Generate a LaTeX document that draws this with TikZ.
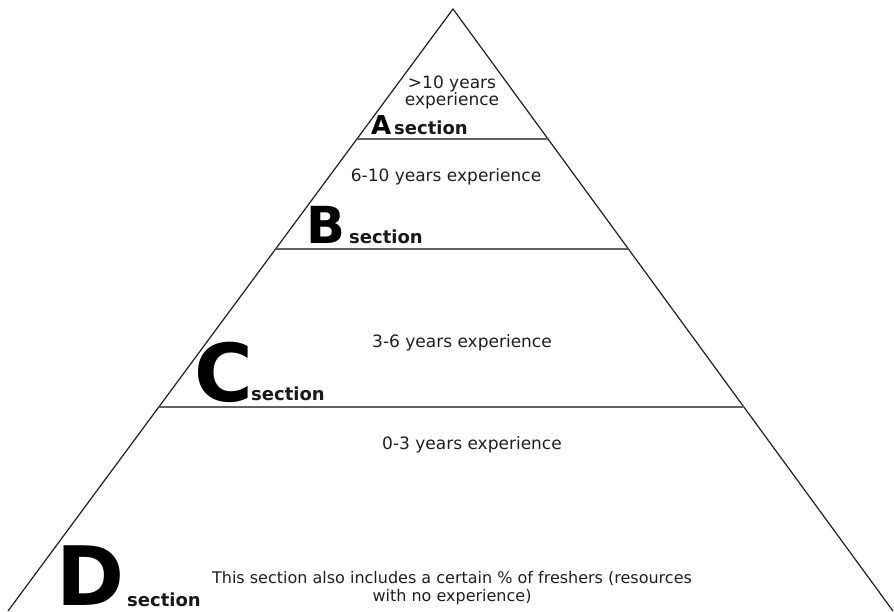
\documentclass[tikz,border=0pt]{standalone}
\usepackage{fontspec}
\setmainfont{DejaVu Sans}
\usetikzlibrary{calc}
\begin{document}
\begin{tikzpicture}[x=1pt,y=-1pt,
  side/.style={draw=black!88, line width=1.2pt},
  divider/.style={draw=black!62, line width=1.9pt},
  desc/.style={anchor=base, inner sep=0pt, text=black!88,
    font=\fontsize{17}{20}\selectfont},
  note/.style={anchor=base, inner sep=0pt, text=black!88,
    font=\fontsize{16}{18}\selectfont},
  letter/.style={anchor=base west, inner sep=0pt, text=black,
    font=\fontsize{#1}{#1}\selectfont\bfseries},
  sect/.style={anchor=base west, inner sep=0pt, text=black!90,
    font=\fontsize{18}{20}\selectfont\bfseries},
]
\useasboundingbox (0,0) rectangle (894,611);
\fill[white] (0,0) rectangle (894,611);

% pyramid outline
\coordinate (apex) at (453,9);
\coordinate (bl) at (8,611);
\coordinate (br) at (893,611);
\draw[side] (bl) -- (apex) -- (br);

% section dividers
\coordinate (abL) at ($(apex)!0.21595!(bl)$);
\coordinate (abR) at ($(apex)!0.21595!(br)$);
\coordinate (bcL) at ($(apex)!0.39867!(bl)$);
\coordinate (bcR) at ($(apex)!0.39867!(br)$);
\coordinate (cdL) at ($(apex)!0.66113!(bl)$);
\coordinate (cdR) at ($(apex)!0.66113!(br)$);
\draw[divider] (abL) -- (abR);
\draw[divider] (bcL) -- (bcR);
\draw[divider] (cdL) -- (cdR);

% section A
\node[desc] (a1) at (452,88) {>10 years};
\node[desc] (a2) at (452,105) {experience};
\node[letter=26] (aL) at (371,134) {A};
\node[sect] (aS) at (394,134) {section};

% section B
\node[desc] (b1) at (446,181) {6-10 years experience};
\node[letter=51] (bL) at (306,243) {B};
\node[sect] (bS) at (349,243) {section};

% section C
\node[desc] (c1) at (462,347) {3-6 years experience};
\node[letter=80] (cL) at (194,401) {C};
\node[sect] (cS) at (251,400) {section};

% section D
\node[desc] (d1) at (472,449) {0-3 years experience};
\node[letter=82] (dL) at (56,605) {D};
\node[sect] (dS) at (127,606) {section};
\node[note] (d2) at (452,583) {This section also includes a certain \% of freshers (resources};
\node[note] (d3) at (452,601) {with no experience)};
\end{tikzpicture}
\end{document}
